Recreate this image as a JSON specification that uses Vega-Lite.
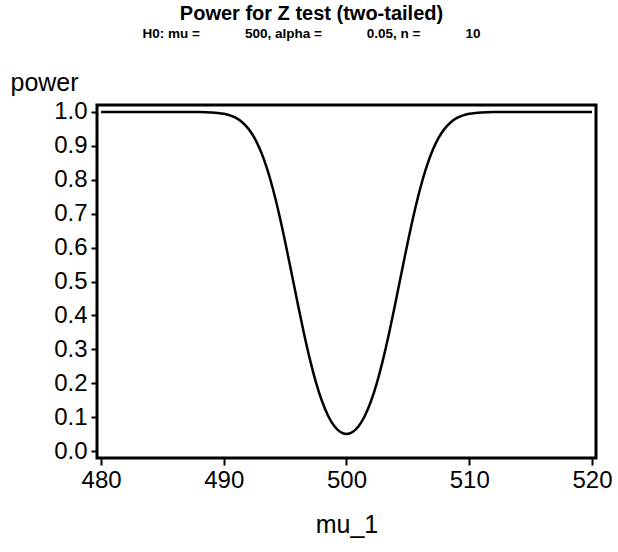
{
  "$schema": "https://vega.github.io/schema/vega-lite/v6.json",
  "width": 499,
  "height": 353,
  "autosize": {"type": "none"},
  "padding": {"left": 97, "top": 105, "right": 22, "bottom": 94},
  "background": "white",
  "title": {
    "text": "Power for Z test (two-tailed)",
    "subtitle": "H0: mu =\u00a0\u00a0\u00a0\u00a0\u00a0\u00a0\u00a0\u00a0\u00a0\u00a0\u00a0\u00a0500, alpha =\u00a0\u00a0\u00a0\u00a0\u00a0\u00a0\u00a0\u00a0\u00a0\u00a0\u00a0\u00a00.05, n =\u00a0\u00a0\u00a0\u00a0\u00a0\u00a0\u00a0\u00a0\u00a0\u00a0\u00a0\u00a010",
    "anchor": "middle",
    "frame": "group",
    "dx": -35,
    "offset": 30,
    "font": "Liberation Sans",
    "fontSize": 20,
    "fontWeight": "bold",
    "color": "black",
    "subtitleFont": "Liberation Sans",
    "subtitleFontSize": 13.5,
    "subtitleFontWeight": "bold",
    "subtitleColor": "black",
    "subtitlePadding": 3
  },
  "config": {
    "view": {"stroke": "black", "strokeWidth": 3},
    "axis": {
      "labelFont": "Liberation Sans",
      "labelFontSize": 24,
      "labelColor": "black",
      "titleFont": "Liberation Sans",
      "titleFontSize": 25,
      "titleFontWeight": "normal",
      "titleColor": "black",
      "domain": false,
      "grid": false,
      "tickColor": "black",
      "tickWidth": 2
    }
  },
  "data": {
    "values": [
      {"mu_1": 480, "power": 1.0},
      {"mu_1": 482, "power": 1.0},
      {"mu_1": 484, "power": 1.0},
      {"mu_1": 486, "power": 1.0},
      {"mu_1": 487, "power": 0.9999},
      {"mu_1": 488, "power": 0.9997},
      {"mu_1": 489, "power": 0.9987},
      {"mu_1": 489.5, "power": 0.9973},
      {"mu_1": 490, "power": 0.9947},
      {"mu_1": 490.5, "power": 0.9901},
      {"mu_1": 491, "power": 0.9824},
      {"mu_1": 491.5, "power": 0.9699},
      {"mu_1": 492, "power": 0.9509},
      {"mu_1": 492.5, "power": 0.9234},
      {"mu_1": 493, "power": 0.8854},
      {"mu_1": 493.5, "power": 0.8356},
      {"mu_1": 494, "power": 0.7735},
      {"mu_1": 494.5, "power": 0.7001},
      {"mu_1": 495, "power": 0.6174},
      {"mu_1": 495.5, "power": 0.5291},
      {"mu_1": 496, "power": 0.4393},
      {"mu_1": 496.5, "power": 0.3526},
      {"mu_1": 497, "power": 0.2732},
      {"mu_1": 497.5, "power": 0.2041},
      {"mu_1": 498, "power": 0.1475},
      {"mu_1": 498.5, "power": 0.1041},
      {"mu_1": 499, "power": 0.0737},
      {"mu_1": 499.5, "power": 0.0559},
      {"mu_1": 500, "power": 0.05},
      {"mu_1": 500.5, "power": 0.0559},
      {"mu_1": 501, "power": 0.0737},
      {"mu_1": 501.5, "power": 0.1041},
      {"mu_1": 502, "power": 0.1475},
      {"mu_1": 502.5, "power": 0.2041},
      {"mu_1": 503, "power": 0.2732},
      {"mu_1": 503.5, "power": 0.3526},
      {"mu_1": 504, "power": 0.4393},
      {"mu_1": 504.5, "power": 0.5291},
      {"mu_1": 505, "power": 0.6174},
      {"mu_1": 505.5, "power": 0.7001},
      {"mu_1": 506, "power": 0.7735},
      {"mu_1": 506.5, "power": 0.8356},
      {"mu_1": 507, "power": 0.8854},
      {"mu_1": 507.5, "power": 0.9234},
      {"mu_1": 508, "power": 0.9509},
      {"mu_1": 508.5, "power": 0.9699},
      {"mu_1": 509, "power": 0.9824},
      {"mu_1": 509.5, "power": 0.9901},
      {"mu_1": 510, "power": 0.9947},
      {"mu_1": 510.5, "power": 0.9973},
      {"mu_1": 511, "power": 0.9987},
      {"mu_1": 512, "power": 0.9997},
      {"mu_1": 513, "power": 0.9999},
      {"mu_1": 514, "power": 1.0},
      {"mu_1": 516, "power": 1.0},
      {"mu_1": 518, "power": 1.0},
      {"mu_1": 520, "power": 1.0}
    ]
  },
  "mark": {"type": "line", "color": "black", "strokeWidth": 2.5, "interpolate": "monotone"},
  "encoding": {
    "x": {
      "field": "mu_1",
      "type": "quantitative",
      "scale": {"domain": [479.67, 520.33], "nice": false, "zero": false},
      "axis": {
        "values": [480, 490, 500, 510, 520],
        "title": "mu_1",
        "tickSize": 7,
        "labelPadding": 3,
        "titlePadding": 20
      }
    },
    "y": {
      "field": "power",
      "type": "quantitative",
      "scale": {"domain": [-0.0206, 1.0206], "nice": false, "zero": false},
      "axis": {
        "values": [0, 0.1, 0.2, 0.3, 0.4, 0.5, 0.6, 0.7, 0.8, 0.9, 1.0],
        "format": ".1f",
        "title": "power",
        "titleAngle": 0,
        "titleAlign": "left",
        "titleBaseline": "alphabetic",
        "titleX": -87,
        "titleY": -15,
        "tickSize": 6,
        "labelPadding": 4
      }
    }
  }
}
